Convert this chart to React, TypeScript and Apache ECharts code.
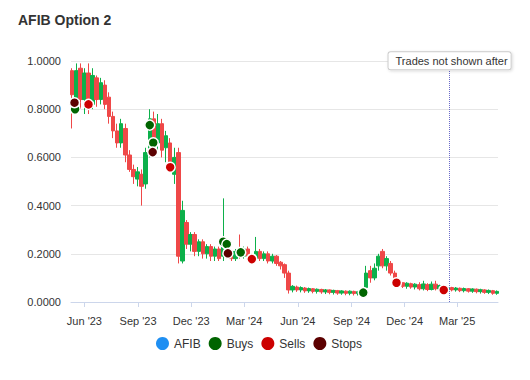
import React, { useEffect, useRef } from "react";
import * as echarts from "echarts";

const FONT = "'Liberation Sans', Arial, Helvetica, sans-serif";

// Weekly candles starting 2023-05-11, one per week: [open, close, low, high]
const firstCandle = "2023-05-11";
const ohlc: number[][] = [
  [0.96, 0.86, 0.72, 0.97],
  [0.82, 0.96, 0.79, 0.99],
  [0.97, 0.84, 0.8, 0.99],
  [0.84, 0.95, 0.78, 0.97],
  [0.95, 0.83, 0.78, 0.99],
  [0.82, 0.94, 0.8, 0.97],
  [0.93, 0.84, 0.81, 0.94],
  [0.84, 0.91, 0.82, 0.93],
  [0.9, 0.82, 0.8, 0.92],
  [0.85, 0.77, 0.74, 0.87],
  [0.77, 0.71, 0.68, 0.79],
  [0.71, 0.66, 0.64, 0.74],
  [0.66, 0.74, 0.64, 0.76],
  [0.72, 0.61, 0.58, 0.74],
  [0.61, 0.55, 0.54, 0.63],
  [0.55, 0.52, 0.49, 0.57],
  [0.51, 0.54, 0.48, 0.56],
  [0.53, 0.48, 0.4, 0.55],
  [0.49, 0.62, 0.47, 0.64],
  [0.62, 0.76, 0.6, 0.8],
  [0.76, 0.66, 0.62, 0.79],
  [0.66, 0.74, 0.63, 0.78],
  [0.74, 0.63, 0.6, 0.76],
  [0.64, 0.69, 0.58, 0.71],
  [0.66, 0.57, 0.55, 0.68],
  [0.53, 0.6, 0.49, 0.64],
  [0.62, 0.19, 0.16, 0.64],
  [0.17, 0.38, 0.16, 0.42],
  [0.33, 0.24, 0.22, 0.34],
  [0.24, 0.28, 0.21, 0.29],
  [0.28, 0.21, 0.19, 0.29],
  [0.21, 0.25, 0.19, 0.26],
  [0.25, 0.2, 0.18, 0.26],
  [0.2, 0.23, 0.18, 0.24],
  [0.23, 0.19, 0.17, 0.24],
  [0.19, 0.22, 0.17, 0.23],
  [0.22, 0.18, 0.17, 0.23],
  [0.19, 0.26, 0.17, 0.43],
  [0.25, 0.19, 0.18, 0.26],
  [0.2, 0.18, 0.17, 0.21],
  [0.18, 0.21, 0.17, 0.22],
  [0.22, 0.19, 0.18, 0.28],
  [0.19, 0.22, 0.18, 0.23],
  [0.22, 0.19, 0.18, 0.23],
  [0.19, 0.17, 0.165, 0.2],
  [0.18, 0.21, 0.17, 0.27],
  [0.21, 0.18, 0.17, 0.22],
  [0.18, 0.2, 0.17, 0.21],
  [0.2, 0.17, 0.16, 0.21],
  [0.17, 0.19, 0.16, 0.2],
  [0.19, 0.16, 0.15, 0.195],
  [0.165, 0.15, 0.135, 0.17],
  [0.155, 0.12, 0.1, 0.16],
  [0.12, 0.05, 0.035, 0.13],
  [0.05, 0.065, 0.04, 0.07],
  [0.062, 0.05, 0.042, 0.068],
  [0.05, 0.06, 0.04, 0.065],
  [0.058, 0.046, 0.038, 0.062],
  [0.046, 0.056, 0.038, 0.06],
  [0.055, 0.044, 0.036, 0.058],
  [0.044, 0.053, 0.035, 0.056],
  [0.052, 0.042, 0.034, 0.055],
  [0.042, 0.05, 0.033, 0.054],
  [0.05, 0.04, 0.032, 0.052],
  [0.04, 0.048, 0.031, 0.051],
  [0.047, 0.037, 0.03, 0.05],
  [0.037, 0.046, 0.03, 0.049],
  [0.045, 0.036, 0.028, 0.048],
  [0.036, 0.045, 0.028, 0.048],
  [0.044, 0.035, 0.027, 0.047],
  [0.035, 0.043, 0.027, 0.046],
  [0.04, 0.05, 0.032, 0.055],
  [0.06, 0.12, 0.05, 0.15],
  [0.13, 0.1, 0.08, 0.15],
  [0.1, 0.14, 0.09, 0.16],
  [0.15, 0.19, 0.13, 0.2],
  [0.21, 0.15, 0.14, 0.22],
  [0.15, 0.18, 0.13, 0.19],
  [0.16, 0.12, 0.11, 0.17],
  [0.12, 0.09, 0.08, 0.13],
  [0.07, 0.08, 0.06, 0.085],
  [0.08, 0.065, 0.058, 0.083],
  [0.065, 0.078, 0.055, 0.082],
  [0.076, 0.062, 0.055, 0.08],
  [0.062, 0.074, 0.052, 0.078],
  [0.072, 0.055, 0.048, 0.082],
  [0.055, 0.075, 0.048, 0.088],
  [0.072, 0.052, 0.045, 0.078],
  [0.052, 0.074, 0.048, 0.085],
  [0.074, 0.055, 0.048, 0.088],
  [0.055, 0.068, 0.048, 0.072],
  [0.066, 0.05, 0.044, 0.07],
  [0.05, 0.06, 0.044, 0.064],
  [0.06, 0.05, 0.044, 0.063],
  [0.05, 0.058, 0.043, 0.062],
  [0.057, 0.047, 0.041, 0.06],
  [0.047, 0.056, 0.04, 0.06],
  [0.055, 0.045, 0.039, 0.058],
  [0.045, 0.054, 0.038, 0.057],
  [0.053, 0.043, 0.036, 0.056],
  [0.043, 0.051, 0.035, 0.055],
  [0.05, 0.04, 0.034, 0.053],
  [0.04, 0.048, 0.033, 0.052],
  [0.047, 0.036, 0.03, 0.05],
  [0.036, 0.044, 0.03, 0.048],
];

const buyDates = ["2023-05-16", "2023-09-21", "2023-09-27", "2024-01-25", "2024-01-31", "2024-02-24", "2024-09-21"];
const buyPrices = [0.8, 0.734, 0.661, 0.25, 0.24, 0.206, 0.039];
const sellDates = ["2023-06-08", "2023-10-26", "2024-03-14", "2024-11-17", "2025-02-06"];
const sellPrices = [0.82, 0.559, 0.178, 0.08, 0.05];
const stopDates = ["2023-05-15", "2023-09-26", "2024-02-02"];
const stopPrices = [0.827, 0.622, 0.202];

const tickDates = ["2023-06-01", "2023-09-01", "2023-12-01", "2024-03-01", "2024-06-01", "2024-09-01", "2024-12-01", "2025-03-01"];
const monthNames = ["Jan", "Feb", "Mar", "Apr", "May", "Jun", "Jul", "Aug", "Sep", "Oct", "Nov", "Dec"];
const axisStart = "2023-05-09";
const axisEnd = "2025-05-10";
const cutoffDate = "2025-02-16";
const cutoffLabel = "Trades not shown after";

const ts = (s: string) => new Date(s + "T00:00:00Z").getTime();
const DAY = 86400000;

export default function App() {
  const ref = useRef<HTMLDivElement>(null);
  useEffect(() => {
    if (!ref.current) return;
    const chart = echarts.init(ref.current, undefined, { renderer: "svg" });
    const start = ts(firstCandle);
    const candles = ohlc.map((c, i) => [start + i * 7 * DAY, c[0], c[1], c[2], c[3]]);
    const ticks = tickDates.map(ts);
    const markerStyle = (color: string) => ({ color, opacity: 1, borderColor: "#ffffff", borderWidth: 1.5 });
    const cutoff = ts(cutoffDate);
    chart.setOption({
      animation: false,
      textStyle: { fontFamily: FONT },
      title: {
        text: "AFIB Option 2",
        left: 13,
        top: 8,
        textStyle: { fontSize: 14, fontWeight: "bold", color: "#333333", fontFamily: FONT },
      },
      legend: {
        left: 151,
        top: 332,
        itemWidth: 13,
        itemHeight: 13,
        itemGap: 8,
        textStyle: { fontSize: 12, color: "#333333", fontFamily: FONT },
        data: [
          { name: "AFIB", icon: "circle", itemStyle: { color: "#1f8ff2", opacity: 1, borderWidth: 0 } },
          { name: "Buys", icon: "circle", itemStyle: { color: "#006400", opacity: 1, borderWidth: 0 } },
          { name: "Sells", icon: "circle", itemStyle: { color: "#cc0000", opacity: 1, borderWidth: 0 } },
          { name: "Stops", icon: "circle", itemStyle: { color: "#5c0000", opacity: 1, borderWidth: 0 } },
        ],
      },
      grid: { left: 71, right: 32, top: 61, bottom: 78 },
      xAxis: {
        type: "value",
        min: ts(axisStart),
        max: ts(axisEnd),
        axisLine: { lineStyle: { color: "#ccd6eb" } },
        axisTick: { show: true, length: 5, customValues: ticks, lineStyle: { color: "#ccd6eb" } },
        axisLabel: {
          customValues: ticks,
          color: "#333333",
          fontSize: 11,
          margin: 13,
          fontFamily: FONT,
          formatter: (v: number) => {
            const d = new Date(v);
            return monthNames[d.getUTCMonth()] + " '" + String(d.getUTCFullYear()).slice(2);
          },
        },
        splitLine: { show: false },
      },
      yAxis: {
        type: "value",
        min: 0,
        max: 1,
        interval: 0.2,
        axisLine: { show: false },
        axisTick: { show: false },
        axisLabel: { color: "#333333", fontSize: 11, margin: 10, fontFamily: FONT, formatter: (v: number) => v.toFixed(4) },
        splitLine: { lineStyle: { color: "#e6e6e6" } },
      },
      series: [
        {
          name: "AFIB",
          type: "candlestick",
          barWidth: 4,
          encode: { x: 0, y: [1, 2, 3, 4] },
          itemStyle: {
            color: "#0cb04a",
            color0: "#ef4848",
            borderColor: "#0cb04a",
            borderColor0: "#ef4848",
            borderWidth: 1,
            opacity: 1,
          },
          data: candles,
          markLine: {
            silent: true,
            symbol: ["none", "none"],
            lineStyle: { type: "dotted", color: "#6a6ac8", width: 1 },
            label: {
              show: true,
              position: "end",
              distance: 1,
              formatter: cutoffLabel,
              backgroundColor: "#ffffff",
              borderColor: "#cccccc",
              borderWidth: 1,
              borderRadius: 2,
              padding: [3, 3, 3, 7],
              color: "#333333",
              fontSize: 11,
              fontFamily: FONT,
              shadowBlur: 3,
              shadowColor: "rgba(0,0,0,0.15)",
              shadowOffsetX: 1,
              shadowOffsetY: 1,
            },
            data: [[{ coord: [cutoff, 0] }, { coord: [cutoff, 0.962] }]],
          },
        },
        {
          name: "Buys",
          type: "scatter",
          symbol: "circle",
          symbolSize: 10,
          itemStyle: markerStyle("#006400"),
          data: buyDates.map((d, i) => [ts(d), buyPrices[i]]),
        },
        {
          name: "Sells",
          type: "scatter",
          symbol: "circle",
          symbolSize: 10,
          itemStyle: markerStyle("#cc0000"),
          data: sellDates.map((d, i) => [ts(d), sellPrices[i]]),
        },
        {
          name: "Stops",
          type: "scatter",
          symbol: "circle",
          symbolSize: 10,
          itemStyle: markerStyle("#5c0000"),
          data: stopDates.map((d, i) => [ts(d), stopPrices[i]]),
        },
      ],
    });
    return () => chart.dispose();
  }, []);
  return <div ref={ref} style={{ position: "absolute", left: 0, top: 0, width: 530, height: 380 }} />;
}
